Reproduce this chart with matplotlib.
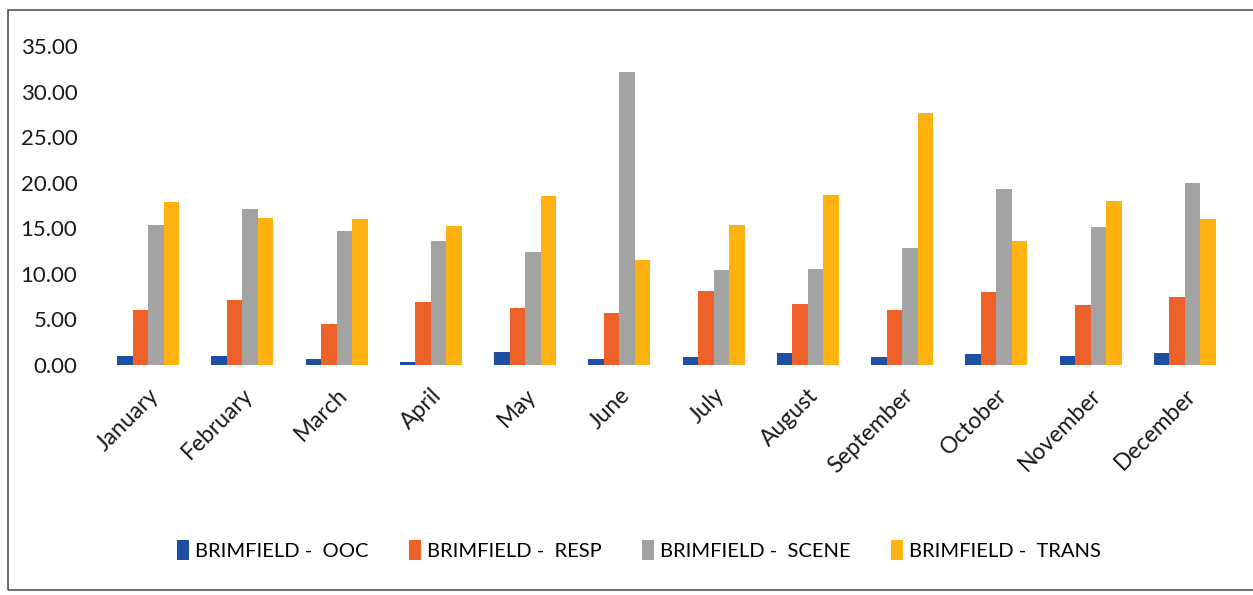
import numpy as np
import matplotlib.pyplot as plt
from matplotlib.patches import Rectangle

plt.rcParams['font.family'] = ['Lato', 'DejaVu Sans']

# data
months = ["January", "February", "March", "April", "May", "June",
          "July", "August", "September", "October", "November", "December"]
ooc = [1.0, 1.0, 0.7, 0.3, 1.4, 0.7, 0.9, 1.3, 0.9, 1.2, 1.0, 1.3]
resp = [6.0, 7.1, 4.5, 6.9, 6.3, 5.7, 8.1, 6.7, 6.0, 8.0, 6.6, 7.5]
scene = [15.4, 17.1, 14.7, 13.6, 12.4, 32.1, 10.4, 10.5, 12.8, 19.3, 15.1, 20.0]
trans = [17.9, 16.1, 16.0, 15.3, 18.5, 11.5, 15.4, 18.6, 27.7, 13.6, 18.0, 16.0]

series_names = ["BRIMFIELD -  OOC", "BRIMFIELD -  RESP",
                "BRIMFIELD -  SCENE", "BRIMFIELD -  TRANS"]
colors = ["#1E4FA3", "#EE6128", "#A3A3A3", "#FFB20F"]

fig = plt.figure(figsize=(12.53, 5.95), dpi=100)

# chart border
fig.patches.append(Rectangle((8 / 1253, 5 / 595), 1.0, 1 - 15 / 595,
                             transform=fig.transFigure, fill=False,
                             edgecolor="#555555", linewidth=1.2))

ax = fig.add_axes([101 / 1253, 1 - 365 / 595, (1232 - 101) / 1253, (365 - 46) / 595])

x = np.arange(len(months))
w = 0.165
for i, (vals, name, c) in enumerate(zip([ooc, resp, scene, trans], series_names, colors)):
    ax.bar(x + (i - 1.5) * w, vals, width=w, color=c, label=name)

ax.set_xlim(-0.5, len(months) - 0.5)
ax.set_ylim(0, 35)
ax.set_yticks(np.arange(0, 36, 5))
ax.set_yticklabels([f"{v:.2f}" for v in np.arange(0, 36, 5)], fontsize=16, color="#1a1a1a")
ax.set_xticks(x)
ax.set_xticklabels(months, rotation=45, ha="right", va="top",
                   rotation_mode="anchor", fontsize=16.5, color="#1a1a1a")
ax.tick_params(axis="y", length=0, pad=17)
ax.tick_params(axis="x", length=0, pad=14)
for s in ax.spines.values():
    s.set_visible(False)

fig.legend(loc="center", bbox_to_anchor=(0.51, 1 - 550 / 595), ncol=4,
           frameon=False, fontsize=14.5, handlelength=0.6, handleheight=1.1,
           handletextpad=0.3, columnspacing=2.0)

fig.savefig("out.png", dpi=100)
